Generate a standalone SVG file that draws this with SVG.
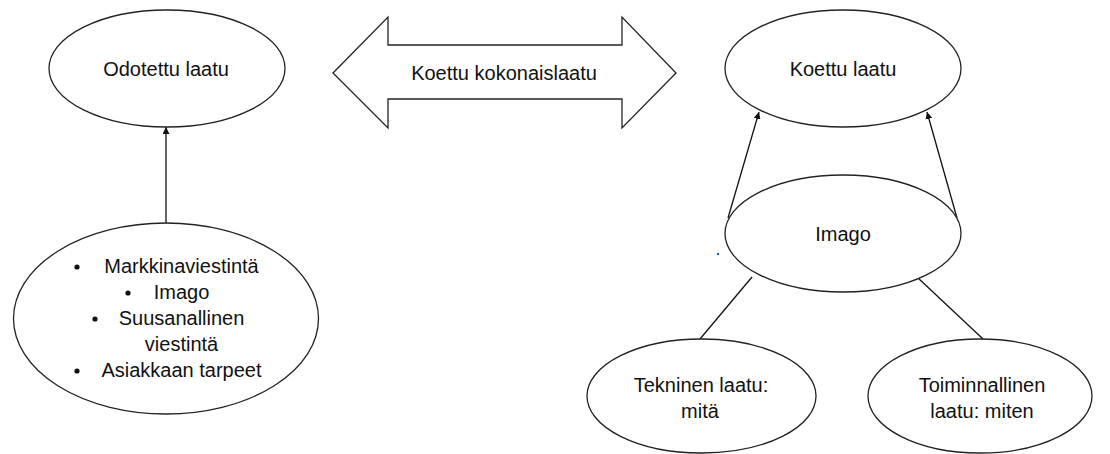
<svg xmlns="http://www.w3.org/2000/svg" width="1110" height="454" viewBox="0 0 1110 454">
<style>
.n{fill:#fff;stroke:#222;stroke-width:1.3}
.t{font-family:"Liberation Sans",Arial,sans-serif;font-size:20px;fill:#111;text-anchor:middle}
.c{stroke:#111;stroke-width:1.3;fill:none}
</style>
<defs>
<marker id="ah" viewBox="0 0 10 10" refX="10" refY="5" markerWidth="7" markerHeight="7" markerUnits="userSpaceOnUse" orient="auto">
<path d="M0,0 L10,5 L0,10 z" fill="#111"/>
</marker>
</defs>
<rect width="1110" height="454" fill="#fff"/>
<g id="connectors">
<line class="c" x1="166" y1="223" x2="166" y2="127" marker-end="url(#ah)"/>
<line class="c" x1="728" y1="218" x2="759" y2="112" marker-end="url(#ah)"/>
<line class="c" x1="957" y1="218" x2="927" y2="112" marker-end="url(#ah)"/>
<line class="c" x1="752" y1="277" x2="700" y2="339"/>
<line class="c" x1="917" y1="277" x2="983" y2="339"/>
</g>
<g id="odotettu">
<ellipse class="n" cx="167" cy="68.5" rx="118" ry="58.5"/>
<text class="t" x="166" y="76">Odotettu laatu</text>
</g>
<g id="kokonaislaatu">
<path class="n" d="M333,73 L388,17 L388,45 L622,45 L622,17 L676,73 L622,128 L622,99 L388,99 L388,128 Z"/>
<text class="t" x="504" y="80">Koettu kokonaislaatu</text>
</g>
<g id="koettu">
<ellipse class="n" cx="843" cy="68.5" rx="118" ry="58.5"/>
<text class="t" x="843" y="76">Koettu laatu</text>
</g>
<g id="lahteet">
<ellipse class="n" cx="166" cy="318.5" rx="152.5" ry="95.5"/>
<text class="t" x="181.5" y="273">Markkinaviestintä</text>
<text class="t" x="181.5" y="299">Imago</text>
<text class="t" x="181.5" y="325">Suusanallinen</text>
<text class="t" x="181.5" y="351">viestintä</text>
<text class="t" x="181.5" y="377">Asiakkaan tarpeet</text>
<circle cx="77" cy="267" r="2.6" fill="#111"/>
<circle cx="128" cy="293" r="2.6" fill="#111"/>
<circle cx="95" cy="319" r="2.6" fill="#111"/>
<circle cx="77" cy="371" r="2.6" fill="#111"/>
</g>
<g id="imago">
<ellipse class="n" cx="843" cy="233.5" rx="118" ry="58.5"/>
<text class="t" x="843" y="241">Imago</text>
</g>
<circle cx="718" cy="254" r="1.2" fill="#3344ee"/>
<g id="tekninen">
<ellipse class="n" cx="701.5" cy="396" rx="114.5" ry="57"/>
<text class="t" x="701" y="392">Tekninen laatu:</text>
<text class="t" x="700" y="418">mitä</text>
</g>
<g id="toiminnallinen">
<ellipse class="n" cx="980" cy="396" rx="112" ry="57"/>
<text class="t" x="982" y="392">Toiminnallinen</text>
<text class="t" x="982" y="418">laatu: miten</text>
</g>
</svg>
